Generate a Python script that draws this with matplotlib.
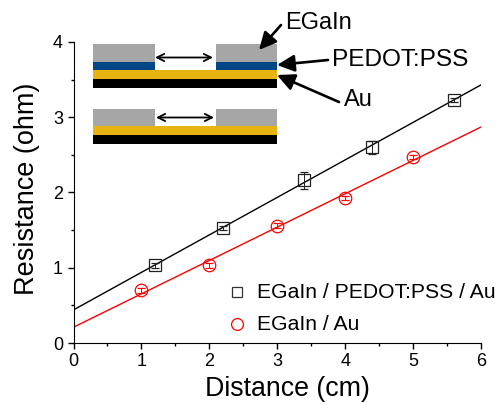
import matplotlib
matplotlib.use("Agg")
import matplotlib.pyplot as plt
from matplotlib.patches import Rectangle
from matplotlib.ticker import MultipleLocator

W, H = 499, 405

# measured data
x_pedot = [1.2, 2.2, 3.4, 4.4, 5.6]
y_pedot = [1.03, 1.53, 2.16, 2.60, 3.23]
err_pedot = [0.03, 0.03, 0.11, 0.09, 0.03]
x_au = [1, 2, 3, 4, 5]
y_au = [0.70, 1.03, 1.56, 1.93, 2.47]
err_au = [0.03, 0.03, 0.03, 0.03, 0.03]

# fit lines, read at both ends of the axis
fit_x = [0, 6]
fit_pedot = [0.44, 3.43]
fit_au = [0.21, 2.87]

x_ticks = [0, 1, 2, 3, 4, 5, 6]
y_ticks = [0, 1, 2, 3, 4]
labels = ["EGaIn / PEDOT:PSS / Au", "EGaIn / Au"]

GREY = "#a6a6a6"
BLUE = "#004586"
GOLD = "#e6b411"

plt.rcParams["font.family"] = ["Liberation Sans", "DejaVu Sans"]

fig = plt.figure(figsize=(W / 100, H / 100), dpi=100)
ax = fig.add_axes([73.5 / W, 1 - 343 / H, (481 - 73.5) / W, (343 - 42) / H])

ax.plot(fit_x, fit_pedot, color="black", lw=1.0)
ax.plot(fit_x, fit_au, color="red", lw=1.0)
ax.errorbar(x_pedot, y_pedot, yerr=err_pedot, fmt="s", ms=8, mfc="none", mec="#222222",
            mew=0.9, ecolor="#222222", elinewidth=0.7, capsize=2.8, capthick=0.7, clip_on=False)
ax.errorbar(x_au, y_au, yerr=err_au, fmt="o", ms=9, mfc="none", mec="red",
            mew=0.9, ecolor="red", elinewidth=0.7, capsize=2.8, capthick=0.7, clip_on=False)

ax.set_xlim(0, 6)
ax.set_ylim(0, 4)
ax.set_xticks(x_ticks)
ax.set_yticks(y_ticks)
ax.xaxis.set_minor_locator(MultipleLocator(0.5))
ax.yaxis.set_minor_locator(MultipleLocator(0.5))
ax.tick_params(which="major", length=4.5, width=1, labelsize=13, pad=3)
ax.tick_params(which="minor", length=2.5, width=1)
ax.spines["top"].set_visible(False)
ax.spines["right"].set_visible(False)
ax.set_xlabel("Distance (cm)", fontsize=19.3, labelpad=4, x=0.525)
ax.set_ylabel("Resistance (ohm)", fontsize=19.5, labelpad=9, y=0.513)

# schematic + legend, drawn in pixel coordinates over the plot
ov = fig.add_axes([0, 0, 1, 1], facecolor="none")
ov.set_xlim(0, W)
ov.set_ylim(H, 0)
ov.axis("off")


def box(x0, x1, y0, y1, color):
    ov.add_patch(Rectangle((x0, y0), x1 - x0, y1 - y0, color=color, lw=0))


# top stack
box(93.5, 155, 44, 62, GREY)
box(216, 277, 44, 62, GREY)
box(93.5, 155, 62, 70, BLUE)
box(216, 277, 62, 70, BLUE)
box(93.5, 277, 70, 79, GOLD)
box(93.5, 277, 79, 87.5, "black")
# bottom stack
box(93.5, 155, 108.5, 126, GREY)
box(216, 277, 108.5, 126, GREY)
box(93.5, 277, 126, 135, GOLD)
box(93.5, 277, 135, 144, "black")

for x0, x1, y in [(155, 213, 57.5), (156, 214, 117.5)]:
    ov.annotate("", xy=(x1, y), xytext=(x0, y),
                arrowprops=dict(arrowstyle="<->", color="black", lw=1.3, mutation_scale=13,
                                shrinkA=0, shrinkB=0))

for txt, tx, ty, fs, hx, hy, sx, sy in [("EGaIn", 285, 23, 17, 259, 50, 281, 25),
                                        ("PEDOT:PSS", 332, 60, 17.6, 277, 65, 328, 60),
                                        ("Au", 344, 100, 17, 277, 75, 339, 102)]:
    ov.text(tx, ty, txt, fontsize=fs, ha="left", va="center")
    ov.annotate("", xy=(hx, hy), xytext=(sx, sy),
                arrowprops=dict(arrowstyle="-|>,head_width=0.34,head_length=0.7", color="black",
                                lw=1.9, mutation_scale=15, shrinkA=0, shrinkB=0))

# legend
ov.plot([237], [292], "s", ms=7.5, mfc="none", mec="#333333", mew=0.9)
ov.plot([237], [324], "o", ms=8.5, mfc="none", mec="red", mew=0.9)
ov.text(257, 292.5, labels[0], fontsize=15.2, ha="left", va="center")
ov.text(257, 324.5, labels[1], fontsize=15.2, ha="left", va="center")

fig.savefig("out.png", dpi=100)
